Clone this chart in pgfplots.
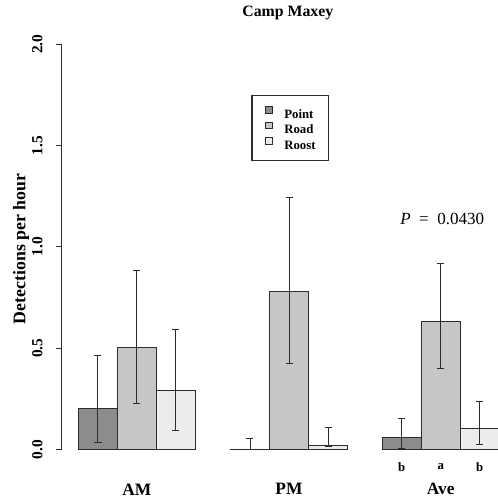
\documentclass[border=0pt]{standalone}
\usepackage{pgfplots}
\pgfplotsset{compat=1.18}
\usepackage{fontspec}
\setmainfont{Liberation Serif}
\definecolor{cpoint}{HTML}{8C8C8C}
\definecolor{croad}{HTML}{C6C6C6}
\definecolor{croost}{HTML}{ECECEC}
\definecolor{edge}{HTML}{2B2B2B}
\begin{document}
\begin{tikzpicture}
\begin{axis}[
  ybar,
  at={(0,0)}, anchor=south west,
  scale only axis, width=218pt, height=202.6pt,
  xmin=62, xmax=498, ymin=0, ymax=2,
  clip=false,
  axis y line=left, axis x line=bottom,
  x axis line style={draw=none},
  y axis line style={-, line width=0.5pt, color=edge},
  xtick={136.8,289,440.8}, xticklabels={AM,PM,Ave},
  xtick style={draw=none},
  ytick={0,0.5,1,1.5,2},
  tick align=outside, major tick length=3pt,
  ytick style={line width=0.5pt, color=edge},
  /pgf/number format/fixed, /pgf/number format/fixed zerofill,
  /pgf/number format/precision=1, /pgf/number format/assume math mode=true,
  yticklabel style={xshift=-6.5pt, rotate=90, anchor=south, inner sep=0pt, font=\fontsize{7.7}{9}\selectfont\bfseries},
  xticklabel style={anchor=center, inner sep=0pt, font=\fontsize{8.7}{10}\selectfont\bfseries, yshift=-16.9pt},
  ylabel={Detections per hour},
  every axis y label/.style={at={(axis description cs:-0.094,0.495)}, rotate=90, anchor=center, font=\fontsize{8.9}{10}\selectfont\bfseries},
  title={Camp Maxey},
  every axis title/.style={at={(axis description cs:0.518,1.0765)}, anchor=center, font=\fontsize{7.9}{9}\selectfont\bfseries},
  legend cell align=left,
  legend image code/.code={\draw[#1,/tikz/.cd,line width=0.4pt] (0pt,0.3pt) rectangle (3.5pt,3.5pt);},
  legend style={at={(axis cs:251.3,1.751)}, anchor=north west, draw=edge, line width=0.6pt,
    font=\fontsize{6.4}{7.5}\selectfont\bfseries, inner xsep=6.5pt, inner ysep=5.5pt,
    row sep=1.85pt, column sep=5.8pt,
    nodes={inner sep=0pt, text height=4.4pt, text depth=0pt}},
]
\addplot[fill=cpoint, draw=edge, line width=0.5pt, bar shift=0pt, bar width=38.8,
  error bars/.cd, y dir=both, y explicit,
  error bar style={line width=0.5pt, color=edge},
  error mark options={rotate=90, mark size=1.75pt, line width=0.5pt, color=edge}]
  coordinates {(98,0.204) += (0,0.260) -= (0,0.170)
               (250,0.002) += (0,0.053) -= (0,0.002)
               (401.8,0.060) += (0,0.094) -= (0,0.056)};
\addplot[fill=croad, draw=edge, line width=0.5pt, bar shift=0pt, bar width=38.8,
  error bars/.cd, y dir=both, y explicit,
  error bar style={line width=0.5pt, color=edge},
  error mark options={rotate=90, mark size=1.75pt, line width=0.5pt, color=edge}]
  coordinates {(136.8,0.501) += (0,0.384) -= (0,0.274)
               (289,0.781) += (0,0.462) -= (0,0.358)
               (440.8,0.634) += (0,0.286) -= (0,0.234)};
\addplot[fill=croost, draw=edge, line width=0.5pt, bar shift=0pt, bar width=38.8,
  error bars/.cd, y dir=both, y explicit,
  error bar style={line width=0.5pt, color=edge},
  error mark options={rotate=90, mark size=1.75pt, line width=0.5pt, color=edge}]
  coordinates {(175.8,0.293) += (0,0.298) -= (0,0.201)
               (328,0.018) += (0,0.092) -= (0,0.001)
               (479.8,0.103) += (0,0.132) -= (0,0.076)};
\legend{Point,Road,Roost}
\node[font=\fontsize{8.5}{10}\selectfont] at (axis cs:442.2,1.136) {\textit{P}\enspace=\enspace0.0430};
\node[font=\fontsize{6.4}{8}\selectfont\bfseries] at (axis cs:401.8,-0.085) {b};
\node[font=\fontsize{6.4}{8}\selectfont\bfseries] at (axis cs:440.8,-0.085) {a};
\node[font=\fontsize{6.4}{8}\selectfont\bfseries] at (axis cs:479.8,-0.085) {b};
\end{axis}
\pgfresetboundingbox
\path[use as bounding box] (-31pt,-23.75pt) rectangle (218pt,224.75pt);
\end{tikzpicture}
\end{document}
